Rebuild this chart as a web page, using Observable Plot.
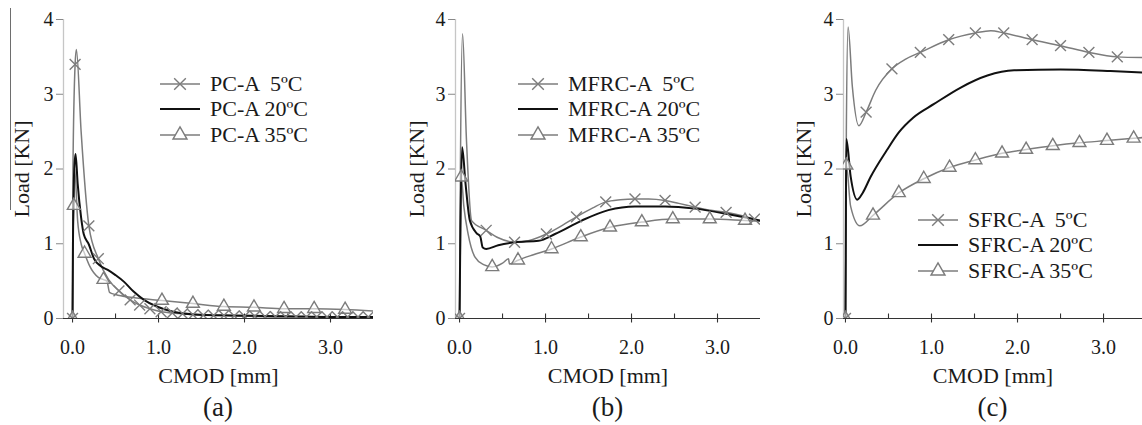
<!DOCTYPE html>
<html><head><meta charset="utf-8">
<script src="https://cdn.jsdelivr.net/npm/d3@7"></script>
<script src="https://cdn.jsdelivr.net/npm/@observablehq/plot@0.6"></script>
<style>
body{margin:0;background:#fff;}
#root{position:relative;width:1142px;height:425px;overflow:hidden;font-family:"Liberation Serif",serif;color:#1a1a1a;}
.panel{position:absolute;top:0;}
.cap{position:absolute;top:391px;font-size:27px;text-align:center;width:60px;line-height:32px;}
.legend{position:absolute;font-size:22px;}
.legend .row{display:flex;align-items:center;height:25.5px;white-space:pre;}
.legend svg{margin-right:10px;overflow:visible;}
g[aria-label="y-axis label"] text, g[aria-label="x-axis label"] text{font-size:22px;}
</style></head><body><div id="root"></div>
<script>
// ---------------- data ----------------
const yTicks = [0, 1, 2, 3, 4];
const xTicks = [0, 1, 2, 3];
const xMinorTicks = [0.5, 1.5, 2.5];
const xLabel = "CMOD [mm]";
const yLabel = "Load [KN]";
const captions = ["(a)", "(b)", "(c)"];
const legendA = ["PC-A  5ºC", "PC-A 20ºC", "PC-A 35ºC"];
const legendB = ["MFRC-A  5ºC", "MFRC-A 20ºC", "MFRC-A 35ºC"];
const legendC = ["SFRC-A  5ºC", "SFRC-A 20ºC", "SFRC-A 35ºC"];

// (a) PC-A
const pcA5X  = [0, 0.005, 0.03, 0.045, 0.1, 0.19, 0.3, 0.42, 0.54, 0.67, 0.78, 0.9, 1.03, 1.2, 1.4, 1.7, 2.0, 2.5, 3.0, 3.5];
const pcA5Y  = [0, 2.0, 3.4, 3.6, 2.5, 1.24, 0.8, 0.52, 0.37, 0.25, 0.18, 0.13, 0.09, 0.07, 0.05, 0.04, 0.03, 0.02, 0.02, 0.02];
const pcA5MX = [0, 0.03, 0.19, 0.3, 0.54, 0.67, 0.78, 0.9, 1.03, 1.16, 1.28, 1.4, 1.52, 1.64, 1.76, 1.88, 2.0, 2.12, 2.24, 2.36, 2.48, 2.6, 2.72, 2.84, 2.96, 3.08, 3.2, 3.32, 3.44];
const pcA5MY = [0, 3.4, 1.24, 0.8, 0.37, 0.25, 0.18, 0.13, 0.09, 0.075, 0.065, 0.05, 0.045, 0.04, 0.04, 0.035, 0.03, 0.03, 0.025, 0.025, 0.02, 0.02, 0.02, 0.02, 0.02, 0.02, 0.02, 0.02, 0.02];
const pcA20X = [0, 0.005, 0.02, 0.035, 0.06, 0.1, 0.13, 0.19, 0.25, 0.33, 0.41, 0.5, 0.6, 0.71, 0.83, 0.98, 1.17, 1.48, 1.87, 2.5, 3.0, 3.5];
const pcA20Y = [0, 1.0, 2.0, 2.2, 1.8, 1.35, 1.13, 0.99, 0.8, 0.7, 0.65, 0.58, 0.49, 0.36, 0.25, 0.16, 0.09, 0.05, 0.04, 0.03, 0.02, 0.02];
const pcA35X = [0, 0.005, 0.015, 0.025, 0.06, 0.1, 0.14, 0.2, 0.3, 0.36, 0.4, 0.43, 0.5, 0.7, 1.04, 1.4, 1.76, 2.11, 2.46, 2.81, 3.17, 3.5];
const pcA35Y = [0, 1.0, 1.51, 2.0, 1.3, 1.0, 0.87, 0.7, 0.55, 0.52, 0.5, 0.35, 0.32, 0.28, 0.24, 0.2, 0.16, 0.15, 0.13, 0.13, 0.12, 0.1];
const pcA35MX = [0, 0.015, 0.14, 0.36, 1.04, 1.4, 1.76, 2.11, 2.46, 2.81, 3.17];
const pcA35MY = [0, 1.51, 0.87, 0.52, 0.24, 0.2, 0.16, 0.15, 0.13, 0.13, 0.12];

// (b) MFRC-A
const mfA5X  = [0, 0.01, 0.035, 0.08, 0.14, 0.31, 0.45, 0.64, 0.8, 1.01, 1.2, 1.36, 1.55, 1.7, 1.87, 2.04, 2.2, 2.39, 2.55, 2.74, 2.9, 3.1, 3.3, 3.5];
const mfA5Y  = [0, 2.0, 3.81, 2.4, 1.31, 1.18, 1.08, 1.02, 1.04, 1.13, 1.25, 1.36, 1.48, 1.56, 1.59, 1.6, 1.6, 1.58, 1.54, 1.49, 1.45, 1.42, 1.37, 1.3];
const mfA5MX = [0, 0.31, 0.64, 1.01, 1.36, 1.7, 2.04, 2.39, 2.74, 3.1, 3.43];
const mfA5MY = [0, 1.18, 1.02, 1.13, 1.36, 1.56, 1.6, 1.58, 1.49, 1.42, 1.33];
const mfA20X = [0, 0.01, 0.03, 0.07, 0.12, 0.2, 0.24, 0.27, 0.31, 0.45, 0.64, 0.92, 1.11, 1.42, 1.73, 2.04, 2.39, 2.74, 3.1, 3.5];
const mfA20Y = [0, 1.2, 2.29, 1.8, 1.31, 1.14, 1.1, 0.95, 0.93, 0.98, 1.02, 1.04, 1.13, 1.31, 1.45, 1.5, 1.5, 1.47, 1.4, 1.31];
const mfA35X = [0, 0.01, 0.02, 0.05, 0.1, 0.18, 0.28, 0.38, 0.5, 0.57, 0.58, 0.68, 0.85, 1.07, 1.41, 1.75, 2.12, 2.48, 2.91, 3.32, 3.5];
const mfA35Y = [0, 1.0, 1.89, 1.5, 1.13, 0.82, 0.72, 0.69, 0.74, 0.8, 0.73, 0.78, 0.85, 0.93, 1.09, 1.22, 1.29, 1.33, 1.33, 1.31, 1.3];
const mfA35MX = [0, 0.02, 0.38, 0.68, 1.07, 1.41, 1.75, 2.12, 2.48, 2.91, 3.32];
const mfA35MY = [0, 1.89, 0.69, 0.78, 0.93, 1.09, 1.22, 1.29, 1.33, 1.33, 1.31];

// (c) SFRC-A
const sfA5X  = [0, 0.01, 0.03, 0.08, 0.155, 0.24, 0.35, 0.54, 0.7, 0.87, 1.2, 1.51, 1.69, 1.84, 2.17, 2.5, 2.83, 3.16, 3.45];
const sfA5Y  = [0, 2.5, 3.9, 3.1, 2.58, 2.76, 3.05, 3.34, 3.47, 3.56, 3.73, 3.82, 3.85, 3.82, 3.73, 3.65, 3.56, 3.5, 3.49];
const sfA5MX = [0, 0.24, 0.54, 0.87, 1.2, 1.51, 1.84, 2.17, 2.5, 2.83, 3.16];
const sfA5MY = [0, 2.76, 3.34, 3.56, 3.73, 3.82, 3.82, 3.73, 3.65, 3.56, 3.5];
const sfA20X = [0, 0.005, 0.01, 0.06, 0.136, 0.2, 0.29, 0.48, 0.62, 0.79, 1.03, 1.34, 1.65, 1.96, 2.5, 3.08, 3.45];
const sfA20Y = [0, 1.5, 2.4, 1.9, 1.59, 1.68, 1.89, 2.25, 2.49, 2.69, 2.87, 3.09, 3.25, 3.32, 3.33, 3.31, 3.29];
const sfA35X = [0, 0.005, 0.01, 0.06, 0.167, 0.32, 0.62, 0.91, 1.21, 1.51, 1.82, 2.1, 2.41, 2.72, 3.04, 3.35, 3.45];
const sfA35Y = [0, 1.2, 2.05, 1.5, 1.24, 1.38, 1.68, 1.87, 2.02, 2.12, 2.21, 2.26, 2.31, 2.35, 2.38, 2.41, 2.42];
const sfA35MX = [0, 0.01, 0.32, 0.62, 0.91, 1.21, 1.51, 1.82, 2.1, 2.41, 2.72, 3.04, 3.35];
const sfA35MY = [0, 2.05, 1.38, 1.68, 1.87, 2.02, 2.12, 2.21, 2.26, 2.31, 2.35, 2.38, 2.41];

// ---------------- rendering ----------------
const GRAY = "#7c7c7c", BLACK = "#111";
const zip = (xs, ys) => xs.map((x, i) => ({x, y: ys[i]}));
const tickMajor = {draw(c) { c.moveTo(0, -5); c.lineTo(0, 4); }};
const tickMinor = {draw(c) { c.moveTo(0, -5); c.lineTo(0, 0); }};

function makePanel(cfg) {
  const root = document.getElementById("root");
  const div = document.createElement("div");
  div.className = "panel";
  div.style.left = cfg.left + "px";
  div.style.width = cfg.width + "px";
  const s5 = zip(cfg.l5x, cfg.l5y), s20 = zip(cfg.l20x, cfg.l20y), s35 = zip(cfg.l35x, cfg.l35y);
  const m5 = zip(cfg.m5x, cfg.m5y), m35 = zip(cfg.m35x, cfg.m35y);
  const plot = Plot.plot({
    width: cfg.width, height: 380,
    marginLeft: cfg.marginLeft, marginRight: cfg.marginRight, marginTop: 19, marginBottom: 62,
    x: {domain: cfg.xDomain},
    y: {domain: [0, 4]},
    style: {fontFamily: '"Liberation Serif", serif', fontSize: "20px", color: "#1a1a1a", background: "transparent", overflow: "visible"},
    marks: [
      Plot.ruleX([cfg.xDomain[0]], {y1: 0, y2: 4, stroke: "#c6c6c6", strokeWidth: 1.3}),
      Plot.ruleY([0], {stroke: "#333", strokeWidth: 1.2}),
      Plot.dot(xTicks, {x: d => d, y: 0, symbol: tickMajor, fill: "none", stroke: "#333", strokeWidth: 1.1}),
      Plot.dot(xMinorTicks, {x: d => d, y: 0, symbol: tickMinor, fill: "none", stroke: "#333", strokeWidth: 1.1}),
      Plot.axisY({ticks: yTicks, tickSize: 7, tickPadding: 3, stroke: "#888", tickFormat: d => String(d),
        label: yLabel, labelAnchor: "center", labelArrow: "none", labelOffset: cfg.labelOffset}),
      Plot.axisX({ticks: xTicks, tickSize: 0, tickPadding: 21, tickFormat: d3.format(".1f"),
        label: xLabel, labelAnchor: "center", labelArrow: "none", labelOffset: 64}),
      Plot.line(s35, {x: "x", y: "y", stroke: GRAY, strokeWidth: 1.5, curve: "monotone-x", clip: true}),
      Plot.line(s5, {x: "x", y: "y", stroke: GRAY, strokeWidth: 1.5, curve: "monotone-x", clip: true}),
      Plot.line(s20, {x: "x", y: "y", stroke: BLACK, strokeWidth: 2, curve: "monotone-x", clip: true}),
      Plot.dot(m35, {x: "x", y: "y", symbol: "triangle", r: 4.8, fill: "white", fillOpacity: 0.6, stroke: GRAY, strokeWidth: 1.4, clip: true}),
      Plot.dot(m5, {x: "x", y: "y", symbol: "times", r: 5, stroke: GRAY, strokeWidth: 1.4, clip: true})
    ]
  });
  div.appendChild(plot);
  // legend
  const lg = document.createElement("div");
  lg.className = "legend";
  lg.style.left = cfg.legendLeft + "px";
  lg.style.top = cfg.legendTop + "px";
  const syms = ["times", null, "triangle"];
  cfg.legend.forEach((t, i) => {
    const row = document.createElement("div");
    row.className = "row";
    const col = i === 1 ? BLACK : GRAY;
    let svg = `<svg width="40" height="20"><line x1="0" x2="40" y1="10" y2="10" stroke="${col}" stroke-width="${i === 1 ? 2 : 1.5}"/>`;
    if (syms[i] === "times") svg += `<path transform="translate(20,10)" d="${d3.symbol(d3.symbolTimes, 90)()}" stroke="${GRAY}" stroke-width="1.4" fill="none"/>`;
    if (syms[i] === "triangle") svg += `<path transform="translate(20,10)" d="${d3.symbol(d3.symbolTriangle, 85)()}" stroke="${GRAY}" stroke-width="1.4" fill="white"/>`;
    svg += `</svg>`;
    row.innerHTML = svg + `<span>${t}</span>`;
    lg.appendChild(row);
  });
  div.appendChild(lg);
  const cap = document.createElement("div");
  cap.className = "cap";
  cap.textContent = cfg.caption;
  cap.style.left = (cfg.marginLeft + (cfg.width - cfg.marginLeft - cfg.marginRight) / 2 - 30) + "px";
  div.appendChild(cap);
  root.appendChild(div);
}

makePanel({left: 0, width: 380, marginLeft: 63, marginRight: 7, xDomain: [-0.105, 3.5], labelOffset: 50,
  l5x: pcA5X, l5y: pcA5Y, l20x: pcA20X, l20y: pcA20Y, l35x: pcA35X, l35y: pcA35Y,
  m5x: pcA5MX, m5y: pcA5MY, m35x: pcA35MX, m35y: pcA35MY,
  legend: legendA, legendLeft: 160, legendTop: 71, caption: captions[0]});
makePanel({left: 380, width: 380, marginLeft: 75, marginRight: 0, xDomain: [-0.047, 3.5], labelOffset: 47,
  l5x: mfA5X, l5y: mfA5Y, l20x: mfA20X, l20y: mfA20Y, l35x: mfA35X, l35y: mfA35Y,
  m5x: mfA5MX, m5y: mfA5MY, m35x: mfA35MX, m35y: mfA35MY,
  legend: legendB, legendLeft: 138, legendTop: 71, caption: captions[1]});
makePanel({left: 760, width: 382, marginLeft: 83, marginRight: 0, xDomain: [-0.023, 3.453], labelOffset: 48,
  l5x: sfA5X, l5y: sfA5Y, l20x: sfA20X, l20y: sfA20Y, l35x: sfA35X, l35y: sfA35Y,
  m5x: sfA5MX, m5y: sfA5MY, m35x: sfA35MX, m35y: sfA35MY,
  legend: legendC, legendLeft: 158, legendTop: 207, caption: captions[2]});

// thin stray rule at the left edge of panel (a), as in the source image
const edge = document.createElement("div");
edge.style.cssText = "position:absolute;left:10px;top:8px;width:1.3px;height:202px;background:#6e6e6e;";
document.getElementById("root").appendChild(edge);
</script>
</body></html>
